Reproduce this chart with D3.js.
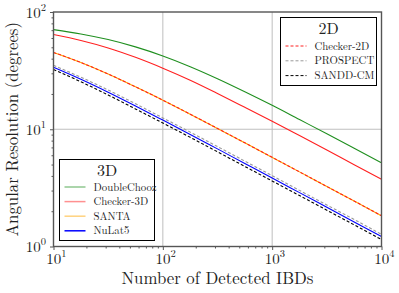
<!DOCTYPE html>
<html><head><meta charset="utf-8">
<script src="https://cdn.jsdelivr.net/npm/d3@7"></script>
<style>
body{margin:0;background:#fff;}
</style></head>
<body><svg id="c" width="399" height="293"></svg>
<script>
// ---- data ----
const ibds = [10, 17.8, 31.6, 56.2, 100, 178, 316, 562, 1000, 1778, 3162, 5623, 10000];
const doubleChooz = [70.8, 65.0, 58.2, 50.4, 42.2, 34.2, 27.0, 20.9, 16.0, 12.1, 9.15, 6.89, 5.18];
const checker3D   = [64.2, 57.2, 49.4, 41.1, 33.2, 26.2, 20.2, 15.4, 11.7, 8.83, 6.65, 4.99, 3.75];
const santa       = [45.2, 37.1, 29.6, 23.0, 17.7, 13.45, 10.17, 7.66, 5.76, 4.33, 3.25, 2.44, 1.83];
const nuLat5      = [33.8, 26.7, 20.7, 15.8, 11.97, 9.04, 6.80, 5.11, 3.84, 2.88, 2.16, 1.62, 1.215];
const checker2D   = [45.2, 37.1, 29.6, 23.0, 17.7, 13.45, 10.17, 7.66, 5.76, 4.33, 3.25, 2.44, 1.83];
const prospect    = [35.1, 27.8, 21.6, 16.5, 12.5, 9.45, 7.12, 5.35, 4.02, 3.01, 2.26, 1.70, 1.27];
const sanddCM     = [32.3, 25.4, 19.6, 14.9, 11.3, 8.53, 6.42, 4.82, 3.62, 2.72, 2.04, 1.53, 1.146];
const xMajor = [10, 100, 1000, 10000];
const yMajor = [1, 10, 100];
const xTitle = "Number of Detected IBDs";
const yTitle = "Angular Resolution (degrees)";
const legend3DTitle = "3D";
const legend2DTitle = "2D";

const FONT = '"Latin Modern Roman", "Liberation Serif", serif';

const series3D = [
  {name:"DoubleChooz", values:doubleChooz, color:"#1f8f1f", legendColor:"#8fc78f", dash:null},
  {name:"Checker-3D", values:checker3D, color:"#ff2020", legendColor:"#ff9090", dash:null},
  {name:"SANTA", values:santa, color:"#ffa500", legendColor:"#ffd27f", dash:null},
  {name:"NuLat5", values:nuLat5, color:"#0000ff", legendColor:"#0000ff", dash:null}
];
const series2D = [
  {name:"Checker-2D", values:checker2D, color:"#ff2020", dash:"3,2"},
  {name:"PROSPECT", values:prospect, color:"#999999", dash:"3,2"},
  {name:"SANDD-CM", values:sanddCM, color:"#000000", dash:"3,2"}
];

// ---- layout ----
const svg = d3.select("#c");
const L = 53.5, R = 381.5, T = 12, B = 246.5;
const x = d3.scaleLog().domain([10, 10000]).range([L, R]);
const y = d3.scaleLog().domain([1, 100]).range([B, T]);

// grid
const g = svg.append("g");
g.selectAll(".gx").data(xMajor.slice(1, -1)).join("line")
  .attr("x1", d => x(d)).attr("x2", d => x(d)).attr("y1", T).attr("y2", B)
  .attr("stroke", "#b8b8b8").attr("stroke-width", 0.9);
g.selectAll(".gy").data(yMajor.slice(1, -1)).join("line")
  .attr("y1", d => y(d)).attr("y2", d => y(d)).attr("x1", L).attr("x2", R)
  .attr("stroke", "#b8b8b8").attr("stroke-width", 0.9);

// lines
const line = d3.line().x((d, i) => x(ibds[i])).y(d => y(d)).curve(d3.curveMonotoneX);
const plot = svg.append("g");
const drawOrder = [series3D[0], series3D[1], series3D[2], series2D[0], series2D[1], series3D[3], series2D[2]];
drawOrder.forEach(s => {
  plot.append("path").attr("d", line(s.values)).attr("fill", "none")
    .attr("stroke", s.color).attr("stroke-width", 1.1)
    .attr("stroke-dasharray", s.dash);
});

// minor ticks
const minorX = [], minorY = [];
[10, 100, 1000].forEach(d => { for (let k = 2; k <= 9; k++) minorX.push(d * k); });
[1, 10].forEach(d => { for (let k = 2; k <= 9; k++) minorY.push(d * k); });

function styleAxis(sel) {
  sel.attr("font-family", null);
  sel.select(".domain").remove();
  sel.selectAll("line").attr("stroke", "#444").attr("stroke-width", 0.9);
}
svg.append("g").attr("transform", `translate(0,${B})`)
  .call(d3.axisBottom(x).tickValues(minorX).tickSize(2).tickFormat("")).call(styleAxis);
svg.append("g").attr("transform", `translate(${L},0)`)
  .call(d3.axisLeft(y).tickValues(minorY).tickSize(2).tickFormat("")).call(styleAxis);

const xa = svg.append("g").attr("transform", `translate(0,${B})`)
  .call(d3.axisBottom(x).tickValues(xMajor).tickSize(3.5).tickPadding(3).tickFormat(d => "10"));
styleAxis(xa);
xa.selectAll("text").attr("font-size", 15).attr("fill", "#222").attr("dy", "0.76em")
  .attr("dx", "0.15em").style("font-family", FONT)
  .append("tspan").attr("font-size", 10.5).attr("dy", "-0.7em").text(d => Math.round(Math.log10(d)));

const ya = svg.append("g").attr("transform", `translate(${L},0)`)
  .call(d3.axisLeft(y).tickValues(yMajor).tickSize(3.5).tickPadding(4).tickFormat(d => "10"));
styleAxis(ya);
ya.selectAll("text").attr("font-size", 15).attr("fill", "#222").attr("dy", "0.36em")
  .style("font-family", FONT)
  .append("tspan").attr("font-size", 10.5).attr("dy", "-0.7em").text(d => Math.round(Math.log10(d)));

// frame
svg.append("rect").attr("x", L).attr("y", T).attr("width", R - L).attr("height", B - T)
  .attr("fill", "none").attr("stroke", "#555").attr("stroke-width", 1.4);

// titles
svg.append("text").attr("x", (L + R) / 2).attr("y", 283.5).attr("text-anchor", "middle")
  .style("font-family", FONT).attr("fill", "#222").attr("font-size", 16.8).text(xTitle);
svg.append("text").attr("transform", `translate(18,${(T + B) / 2}) rotate(-90)`)
  .style("font-family", FONT).attr("fill", "#222")
  .attr("text-anchor", "middle").attr("font-size", 16.8).text(yTitle);

// legends
function legend(x0, y0, w, h, title, items, colorKey, titleDy, rowY0, rowStep) {
  const lg = svg.append("g").attr("transform", `translate(${x0},${y0})`);
  lg.append("rect").attr("width", w).attr("height", h).attr("fill", "#fff")
    .attr("stroke", "#000").attr("stroke-width", 1);
  lg.append("text").attr("x", w / 2).attr("y", titleDy).attr("text-anchor", "middle")
    .style("font-family", FONT).attr("fill", "#222").attr("font-size", 16).text(title);
  items.forEach((s, i) => {
    const yy = rowY0 + i * rowStep;
    lg.append("line").attr("x1", 5).attr("x2", 26).attr("y1", yy).attr("y2", yy)
      .attr("stroke", s[colorKey]).attr("stroke-width", s.dash ? 1 : 1.5)
      .attr("stroke-dasharray", s.dash);
    lg.append("text").attr("x", 34).attr("y", yy).attr("dy", "0.33em")
      .style("font-family", FONT).attr("fill", "#222")
      .attr("font-size", 10.8).text(s.name);
  });
}
legend(280.5, 17.5, 96, 68, legend2DTitle, series2D, "color", 16.5, 28.5, 14.8);
legend(59.5, 159.5, 95, 81, legend3DTitle, series3D, "legendColor", 16, 27.5, 14.6);
</script></body></html>
